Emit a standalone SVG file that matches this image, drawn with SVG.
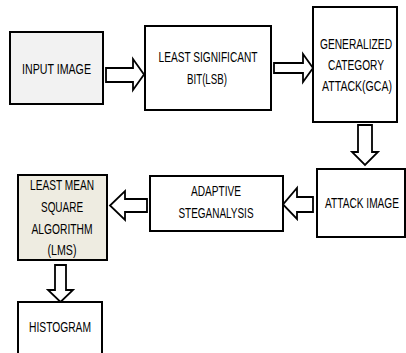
<svg xmlns="http://www.w3.org/2000/svg" width="406" height="353" viewBox="0 0 406 353">
<style>
.box{stroke:#000;stroke-width:2;fill:#fff}
.arr{stroke:#000;stroke-width:1.8;fill:#fff;stroke-linejoin:miter}
text{font-family:"Liberation Sans",Arial,sans-serif;font-size:14px;fill:#000;text-anchor:middle}
</style>
<rect width="406" height="353" fill="#fff"/>
<g id="connectors">
<polygon class="arr" points="106,68 133,68 133,59 144,74.5 133,90 133,82 106,82"/>
<polygon class="arr" points="274,63 303,63 303,54 313,68 303,82 303,73 274,73"/>
<polygon class="arr" points="358,125 372,125 372,152 378,152 365,165 352,152 358,152"/>
<polygon class="arr" points="313,197 297,197 297,188 283,204.5 297,219 297,212 313,212"/>
<polygon class="arr" points="147,199 125,199 125,191 110,205.5 125,220 125,212 147,212"/>
<polygon class="arr" points="55,265 66,265 66,290 73,290 60.5,302 48,290 55,290"/>
</g>
<g id="input-image">
<rect class="box" x="10" y="32" width="93" height="72" style="fill:#f2f2f2"/>
<text transform="matrix(0.74,0,0,1,56.5,0)" x="0" y="74" textLength="93.2" lengthAdjust="spacingAndGlyphs">INPUT IMAGE</text>
</g>
<g id="lsb">
<rect class="box" x="145" y="26" width="126" height="84"/>
<text transform="matrix(0.74,0,0,1,208,0)" x="0" y="62" textLength="133.8" lengthAdjust="spacingAndGlyphs">LEAST SIGNIFICANT</text>
<text transform="matrix(0.74,0,0,1,207,0)" x="0" y="84" textLength="54" lengthAdjust="spacingAndGlyphs">BIT(LSB)</text>
</g>
<g id="gca">
<rect class="box" x="313" y="7" width="84" height="115"/>
<text transform="matrix(0.74,0,0,1,356,0)" x="0" y="49" textLength="97.3" lengthAdjust="spacingAndGlyphs">GENERALIZED</text>
<text transform="matrix(0.74,0,0,1,356,0)" x="0" y="70" textLength="75.7" lengthAdjust="spacingAndGlyphs">CATEGORY</text>
<text transform="matrix(0.74,0,0,1,357,0)" x="0" y="91" textLength="94.6" lengthAdjust="spacingAndGlyphs">ATTACK(GCA)</text>
</g>
<g id="attack-image">
<rect class="box" x="317" y="169" width="88" height="68"/>
<text transform="matrix(0.74,0,0,1,362,0)" x="0" y="208" textLength="100" lengthAdjust="spacingAndGlyphs">ATTACK IMAGE</text>
</g>
<g id="adaptive">
<rect class="box" x="150" y="176" width="133" height="55"/>
<text transform="matrix(0.74,0,0,1,216,0)" x="0" y="196" textLength="67.6" lengthAdjust="spacingAndGlyphs">ADAPTIVE</text>
<text transform="matrix(0.74,0,0,1,216,0)" x="0" y="218" textLength="101.4" lengthAdjust="spacingAndGlyphs">STEGANALYSIS</text>
</g>
<g id="lms">
<rect class="box" x="18" y="175" width="89" height="85" style="fill:#eeece1"/>
<text transform="matrix(0.74,0,0,1,62,0)" x="0" y="190" textLength="86.5" lengthAdjust="spacingAndGlyphs">LEAST MEAN</text>
<text transform="matrix(0.74,0,0,1,62,0)" x="0" y="212" textLength="56.8" lengthAdjust="spacingAndGlyphs">SQUARE</text>
<text transform="matrix(0.74,0,0,1,62,0)" x="0" y="234" textLength="82.4" lengthAdjust="spacingAndGlyphs">ALGORITHM</text>
<text transform="matrix(0.74,0,0,1,62,0)" x="0" y="255" textLength="39.2" lengthAdjust="spacingAndGlyphs">(LMS)</text>
</g>
<g id="histogram">
<rect class="box" x="18" y="302" width="84" height="60"/>
<text transform="matrix(0.74,0,0,1,60,0)" x="0" y="332" textLength="83.8" lengthAdjust="spacingAndGlyphs">HISTOGRAM</text>
</g>
</svg>
